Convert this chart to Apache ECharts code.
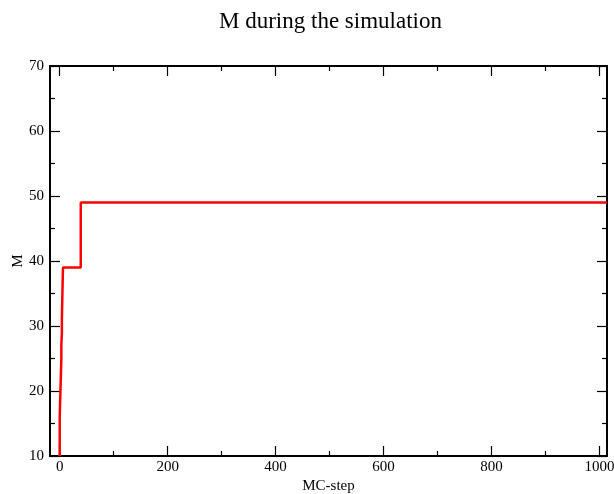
<!DOCTYPE html>
<html>
<head>
<meta charset="utf-8">
<script src="https://cdn.jsdelivr.net/npm/echarts@6/dist/echarts.min.js"></script>
<style>
  html, body { margin: 0; padding: 0; background: #fff; }
  #chart { width: 614px; height: 494px; }
</style>
</head>
<body>
<div id="chart"></div>
<script>
// Magnetisation M versus Monte-Carlo step (step trace)
const mcStep = [0, 0, 1, 1, 2, 3, 3, 4, 4, 6, 6, 39, 39, 1014];
const mValue = [10, 16, 16, 19, 22, 25, 27, 29, 31, 31, 39, 39, 49, 49];

const xMajorTicks = [0, 200, 400, 600, 800, 1000];
const xMinorTicks = [100, 300, 500, 700, 900];
const xMin = -18, xMax = 1014;
const yMin = 10, yMax = 70, yStep = 10;

const serif = '"Liberation Serif", "DejaVu Serif", serif';
const ink = '#000';

function xAxisDef(position, ticks, len, showLabels, name) {
  return {
    type: 'value', position: position, min: xMin, max: xMax,
    name: name || '', nameLocation: 'middle', nameGap: 23, nameMoveOverlap: false,
    nameTextStyle: { fontFamily: serif, fontSize: 15, color: ink },
    axisLine: { show: true, onZero: false, lineStyle: { color: ink, width: 2 } },
    axisTick: { show: true, inside: true, length: len, customValues: ticks,
                lineStyle: { color: ink, width: 1.2 } },
    axisLabel: { show: showLabels, customValues: ticks, margin: 4,
                 formatter: v => String(v),
                 fontFamily: serif, fontSize: 15, color: ink },
    splitLine: { show: false }
  };
}

function yAxisDef(position, showLabels, name) {
  return {
    type: 'value', position: position, min: yMin, max: yMax, interval: yStep,
    name: name || '', nameLocation: 'middle', nameGap: 24, nameMoveOverlap: false,
    nameTextStyle: { fontFamily: serif, fontSize: 15, color: ink },
    axisLine: { show: true, onZero: false, lineStyle: { color: ink, width: 2 } },
    axisTick: { show: true, inside: true, length: 10, lineStyle: { color: ink, width: 1.2 } },
    minorTick: { show: true, splitNumber: 2, length: 5, lineStyle: { color: ink, width: 1.2 } },
    axisLabel: { show: showLabels, margin: 6, fontFamily: serif, fontSize: 15, color: ink },
    splitLine: { show: false }
  };
}

const chart = echarts.init(document.getElementById('chart'), null, { renderer: 'canvas' });
chart.setOption({
  animation: false,
  backgroundColor: '#fff',
  title: {
    text: 'M during the simulation', left: 214, top: 5,
    textStyle: { fontFamily: serif, fontSize: 23, fontWeight: 'normal', color: ink }
  },
  grid: { left: 50, right: 7, top: 66, bottom: 38, outerBoundsMode: 'none', containLabel: false },
  xAxis: [
    xAxisDef('bottom', xMajorTicks, 10, true, 'MC-step'),
    xAxisDef('bottom', xMinorTicks, 5, false),
    xAxisDef('top', xMajorTicks, 10, false),
    xAxisDef('top', xMinorTicks, 5, false)
  ],
  yAxis: [
    yAxisDef('left', true, 'M'),
    yAxisDef('right', false)
  ],
  series: [{
    type: 'line',
    xAxisIndex: 0, yAxisIndex: 0,
    data: mcStep.map((s, i) => [s, mValue[i]]),
    showSymbol: false,
    lineStyle: { color: '#ff0000', width: 2.5 },
    itemStyle: { color: '#ff0000' }
  }]
});
</script>
</body>
</html>
